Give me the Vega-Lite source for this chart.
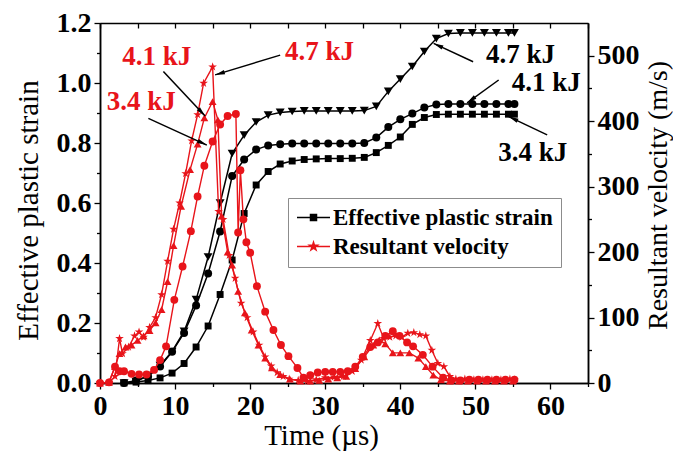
{
  "$schema": "https://vega.github.io/schema/vega-lite/v6.json",
  "width": 488,
  "height": 360,
  "autosize": {"type": "none"},
  "padding": {"left": 100, "top": 23, "right": 85, "bottom": 72},
  "background": "white",
  "config": {
    "view": {"stroke": null},
    "axis": {
      "domainColor": "#000", "tickColor": "#000", "domainWidth": 1.5, "tickWidth": 1.3,
      "labelFont": "Liberation Serif", "labelFontWeight": "bold", "labelFontSize": 28, "labelColor": "#000",
      "titleFont": "Liberation Serif", "titleFontWeight": "normal", "titleFontSize": 29, "titleColor": "#000",
      "grid": false, "labelFlush": false, "labelOverlap": false
    }
  },
  "datasets": {
    "strain": [
      {"t":3.2,"y":0,"e":"4.7 kJ"},{"t":4.8,"y":0.005,"e":"4.7 kJ"},{"t":6.4,"y":0.025,"e":"4.7 kJ"},{"t":8.0,"y":0.058,"e":"4.7 kJ"},{"t":9.6,"y":0.105,"e":"4.7 kJ"},{"t":11.2,"y":0.172,"e":"4.7 kJ"},{"t":12.8,"y":0.278,"e":"4.7 kJ"},{"t":14.4,"y":0.42,"e":"4.7 kJ"},{"t":16.0,"y":0.6,"e":"4.7 kJ"},{"t":17.6,"y":0.765,"e":"4.7 kJ"},{"t":19.2,"y":0.826,"e":"4.7 kJ"},{"t":20.8,"y":0.87,"e":"4.7 kJ"},{"t":22.4,"y":0.893,"e":"4.7 kJ"},{"t":24.0,"y":0.902,"e":"4.7 kJ"},{"t":25.6,"y":0.905,"e":"4.7 kJ"},{"t":27.2,"y":0.907,"e":"4.7 kJ"},{"t":28.8,"y":0.907,"e":"4.7 kJ"},{"t":30.4,"y":0.907,"e":"4.7 kJ"},{"t":32.0,"y":0.907,"e":"4.7 kJ"},{"t":33.6,"y":0.907,"e":"4.7 kJ"},{"t":35.2,"y":0.908,"e":"4.7 kJ"},{"t":36.8,"y":0.922,"e":"4.7 kJ"},{"t":38.4,"y":0.972,"e":"4.7 kJ"},{"t":40.0,"y":1.013,"e":"4.7 kJ"},{"t":41.6,"y":1.055,"e":"4.7 kJ"},{"t":43.2,"y":1.105,"e":"4.7 kJ"},{"t":44.8,"y":1.148,"e":"4.7 kJ"},{"t":46.4,"y":1.165,"e":"4.7 kJ"},{"t":48.0,"y":1.167,"e":"4.7 kJ"},{"t":49.6,"y":1.167,"e":"4.7 kJ"},{"t":51.2,"y":1.167,"e":"4.7 kJ"},{"t":52.8,"y":1.167,"e":"4.7 kJ"},{"t":54.4,"y":1.167,"e":"4.7 kJ"},{"t":55.2,"y":1.167,"e":"4.7 kJ"},
      {"t":3.2,"y":0,"e":"4.1 kJ"},{"t":4.8,"y":0.008,"e":"4.1 kJ"},{"t":6.4,"y":0.022,"e":"4.1 kJ"},{"t":8.0,"y":0.055,"e":"4.1 kJ"},{"t":9.6,"y":0.104,"e":"4.1 kJ"},{"t":11.2,"y":0.167,"e":"4.1 kJ"},{"t":12.8,"y":0.258,"e":"4.1 kJ"},{"t":14.4,"y":0.365,"e":"4.1 kJ"},{"t":16.0,"y":0.505,"e":"4.1 kJ"},{"t":17.6,"y":0.69,"e":"4.1 kJ"},{"t":19.2,"y":0.745,"e":"4.1 kJ"},{"t":20.8,"y":0.778,"e":"4.1 kJ"},{"t":22.4,"y":0.792,"e":"4.1 kJ"},{"t":24.0,"y":0.796,"e":"4.1 kJ"},{"t":25.6,"y":0.798,"e":"4.1 kJ"},{"t":27.2,"y":0.798,"e":"4.1 kJ"},{"t":28.8,"y":0.798,"e":"4.1 kJ"},{"t":30.4,"y":0.798,"e":"4.1 kJ"},{"t":32.0,"y":0.798,"e":"4.1 kJ"},{"t":33.6,"y":0.798,"e":"4.1 kJ"},{"t":35.2,"y":0.8,"e":"4.1 kJ"},{"t":36.8,"y":0.818,"e":"4.1 kJ"},{"t":38.4,"y":0.853,"e":"4.1 kJ"},{"t":40.0,"y":0.879,"e":"4.1 kJ"},{"t":41.6,"y":0.898,"e":"4.1 kJ"},{"t":43.2,"y":0.918,"e":"4.1 kJ"},{"t":44.8,"y":0.928,"e":"4.1 kJ"},{"t":46.4,"y":0.93,"e":"4.1 kJ"},{"t":48.0,"y":0.93,"e":"4.1 kJ"},{"t":49.6,"y":0.93,"e":"4.1 kJ"},{"t":51.2,"y":0.93,"e":"4.1 kJ"},{"t":52.8,"y":0.93,"e":"4.1 kJ"},{"t":54.4,"y":0.93,"e":"4.1 kJ"},{"t":55.2,"y":0.93,"e":"4.1 kJ"},
      {"t":3.2,"y":0,"e":"3.4 kJ"},{"t":4.8,"y":0.003,"e":"3.4 kJ"},{"t":6.4,"y":0.008,"e":"3.4 kJ"},{"t":8.0,"y":0.017,"e":"3.4 kJ"},{"t":9.6,"y":0.033,"e":"3.4 kJ"},{"t":11.2,"y":0.065,"e":"3.4 kJ"},{"t":12.8,"y":0.12,"e":"3.4 kJ"},{"t":14.4,"y":0.19,"e":"3.4 kJ"},{"t":16.0,"y":0.295,"e":"3.4 kJ"},{"t":17.6,"y":0.41,"e":"3.4 kJ"},{"t":19.2,"y":0.565,"e":"3.4 kJ"},{"t":20.8,"y":0.66,"e":"3.4 kJ"},{"t":22.4,"y":0.705,"e":"3.4 kJ"},{"t":24.0,"y":0.73,"e":"3.4 kJ"},{"t":25.6,"y":0.74,"e":"3.4 kJ"},{"t":27.2,"y":0.745,"e":"3.4 kJ"},{"t":28.8,"y":0.747,"e":"3.4 kJ"},{"t":30.4,"y":0.748,"e":"3.4 kJ"},{"t":32.0,"y":0.748,"e":"3.4 kJ"},{"t":33.6,"y":0.749,"e":"3.4 kJ"},{"t":35.2,"y":0.752,"e":"3.4 kJ"},{"t":36.8,"y":0.768,"e":"3.4 kJ"},{"t":38.4,"y":0.792,"e":"3.4 kJ"},{"t":40.0,"y":0.82,"e":"3.4 kJ"},{"t":41.6,"y":0.862,"e":"3.4 kJ"},{"t":43.2,"y":0.885,"e":"3.4 kJ"},{"t":44.8,"y":0.895,"e":"3.4 kJ"},{"t":46.4,"y":0.896,"e":"3.4 kJ"},{"t":48.0,"y":0.896,"e":"3.4 kJ"},{"t":49.6,"y":0.896,"e":"3.4 kJ"},{"t":51.2,"y":0.896,"e":"3.4 kJ"},{"t":52.8,"y":0.896,"e":"3.4 kJ"},{"t":54.4,"y":0.896,"e":"3.4 kJ"},{"t":55.2,"y":0.896,"e":"3.4 kJ"}
    ],
    "vel": [
      {"t":0,"v":0,"e":"4.7 kJ"},{"t":1.2,"v":1,"e":"4.7 kJ"},{"t":2.0,"v":10,"e":"4.7 kJ"},{"t":2.6,"v":68,"e":"4.7 kJ"},{"t":3.0,"v":45,"e":"4.7 kJ"},{"t":3.8,"v":55,"e":"4.7 kJ"},{"t":4.6,"v":72,"e":"4.7 kJ"},{"t":5.2,"v":78,"e":"4.7 kJ"},{"t":5.8,"v":70,"e":"4.7 kJ"},{"t":6.6,"v":85,"e":"4.7 kJ"},{"t":7.4,"v":100,"e":"4.7 kJ"},{"t":8.2,"v":135,"e":"4.7 kJ"},{"t":9.0,"v":186,"e":"4.7 kJ"},{"t":9.8,"v":235,"e":"4.7 kJ"},{"t":10.6,"v":275,"e":"4.7 kJ"},{"t":11.4,"v":320,"e":"4.7 kJ"},{"t":12.2,"v":370,"e":"4.7 kJ"},{"t":13.0,"v":410,"e":"4.7 kJ"},{"t":13.8,"v":458,"e":"4.7 kJ"},{"t":15.0,"v":483,"e":"4.7 kJ"},{"t":15.8,"v":262,"e":"4.7 kJ"},{"t":16.4,"v":250,"e":"4.7 kJ"},{"t":17.2,"v":195,"e":"4.7 kJ"},{"t":18.0,"v":160,"e":"4.7 kJ"},{"t":18.8,"v":122,"e":"4.7 kJ"},{"t":19.6,"v":100,"e":"4.7 kJ"},{"t":20.4,"v":78,"e":"4.7 kJ"},{"t":21.2,"v":58,"e":"4.7 kJ"},{"t":22.0,"v":40,"e":"4.7 kJ"},{"t":22.8,"v":26,"e":"4.7 kJ"},{"t":23.6,"v":16,"e":"4.7 kJ"},{"t":24.4,"v":10,"e":"4.7 kJ"},{"t":25.2,"v":6,"e":"4.7 kJ"},{"t":26.4,"v":4,"e":"4.7 kJ"},{"t":27.6,"v":3,"e":"4.7 kJ"},{"t":28.8,"v":5,"e":"4.7 kJ"},{"t":30.0,"v":8,"e":"4.7 kJ"},{"t":31.2,"v":9,"e":"4.7 kJ"},{"t":32.4,"v":10,"e":"4.7 kJ"},{"t":33.6,"v":18,"e":"4.7 kJ"},{"t":34.8,"v":35,"e":"4.7 kJ"},{"t":36.0,"v":65,"e":"4.7 kJ"},{"t":37.0,"v":91,"e":"4.7 kJ"},{"t":37.8,"v":68,"e":"4.7 kJ"},{"t":38.6,"v":70,"e":"4.7 kJ"},{"t":39.4,"v":72,"e":"4.7 kJ"},{"t":40.2,"v":70,"e":"4.7 kJ"},{"t":41.0,"v":76,"e":"4.7 kJ"},{"t":41.8,"v":77,"e":"4.7 kJ"},{"t":42.6,"v":74,"e":"4.7 kJ"},{"t":43.4,"v":72,"e":"4.7 kJ"},{"t":44.2,"v":50,"e":"4.7 kJ"},{"t":45.0,"v":30,"e":"4.7 kJ"},{"t":45.8,"v":25,"e":"4.7 kJ"},{"t":46.6,"v":10,"e":"4.7 kJ"},{"t":47.4,"v":6,"e":"4.7 kJ"},{"t":48.6,"v":6,"e":"4.7 kJ"},{"t":49.8,"v":5,"e":"4.7 kJ"},{"t":51.0,"v":5,"e":"4.7 kJ"},{"t":52.2,"v":5,"e":"4.7 kJ"},{"t":53.4,"v":5,"e":"4.7 kJ"},{"t":54.6,"v":6,"e":"4.7 kJ"},{"t":55.2,"v":5,"e":"4.7 kJ"},
      {"t":0,"v":0,"e":"4.1 kJ"},{"t":1.2,"v":1,"e":"4.1 kJ"},{"t":2.0,"v":25,"e":"4.1 kJ"},{"t":2.6,"v":45,"e":"4.1 kJ"},{"t":3.4,"v":55,"e":"4.1 kJ"},{"t":4.2,"v":58,"e":"4.1 kJ"},{"t":5.0,"v":65,"e":"4.1 kJ"},{"t":5.8,"v":72,"e":"4.1 kJ"},{"t":6.6,"v":80,"e":"4.1 kJ"},{"t":7.4,"v":92,"e":"4.1 kJ"},{"t":8.2,"v":112,"e":"4.1 kJ"},{"t":9.0,"v":155,"e":"4.1 kJ"},{"t":9.8,"v":210,"e":"4.1 kJ"},{"t":10.8,"v":270,"e":"4.1 kJ"},{"t":12.0,"v":326,"e":"4.1 kJ"},{"t":13.0,"v":365,"e":"4.1 kJ"},{"t":13.9,"v":405,"e":"4.1 kJ"},{"t":15.0,"v":430,"e":"4.1 kJ"},{"t":15.7,"v":402,"e":"4.1 kJ"},{"t":16.2,"v":255,"e":"4.1 kJ"},{"t":17.0,"v":200,"e":"4.1 kJ"},{"t":17.6,"v":180,"e":"4.1 kJ"},{"t":18.4,"v":140,"e":"4.1 kJ"},{"t":19.3,"v":107,"e":"4.1 kJ"},{"t":20.2,"v":81,"e":"4.1 kJ"},{"t":21.1,"v":58,"e":"4.1 kJ"},{"t":22.0,"v":38,"e":"4.1 kJ"},{"t":22.9,"v":23,"e":"4.1 kJ"},{"t":24.0,"v":13,"e":"4.1 kJ"},{"t":25.3,"v":6,"e":"4.1 kJ"},{"t":26.7,"v":3,"e":"4.1 kJ"},{"t":28.0,"v":3,"e":"4.1 kJ"},{"t":29.2,"v":4,"e":"4.1 kJ"},{"t":30.4,"v":6,"e":"4.1 kJ"},{"t":31.6,"v":8,"e":"4.1 kJ"},{"t":32.8,"v":10,"e":"4.1 kJ"},{"t":34.0,"v":22,"e":"4.1 kJ"},{"t":35.2,"v":40,"e":"4.1 kJ"},{"t":36.4,"v":58,"e":"4.1 kJ"},{"t":37.2,"v":66,"e":"4.1 kJ"},{"t":38.0,"v":60,"e":"4.1 kJ"},{"t":39.0,"v":46,"e":"4.1 kJ"},{"t":40.0,"v":46,"e":"4.1 kJ"},{"t":41.2,"v":46,"e":"4.1 kJ"},{"t":42.4,"v":38,"e":"4.1 kJ"},{"t":43.4,"v":25,"e":"4.1 kJ"},{"t":44.4,"v":12,"e":"4.1 kJ"},{"t":45.4,"v":5,"e":"4.1 kJ"},{"t":46.6,"v":3,"e":"4.1 kJ"},{"t":47.8,"v":3,"e":"4.1 kJ"},{"t":49.0,"v":3,"e":"4.1 kJ"},{"t":50.2,"v":3,"e":"4.1 kJ"},{"t":51.4,"v":3,"e":"4.1 kJ"},{"t":52.6,"v":3,"e":"4.1 kJ"},{"t":53.8,"v":3,"e":"4.1 kJ"},{"t":55.0,"v":3,"e":"4.1 kJ"},
      {"t":0,"v":0,"e":"3.4 kJ"},{"t":1.2,"v":1,"e":"3.4 kJ"},{"t":2.0,"v":25,"e":"3.4 kJ"},{"t":2.6,"v":18,"e":"3.4 kJ"},{"t":3.2,"v":18,"e":"3.4 kJ"},{"t":4.2,"v":14,"e":"3.4 kJ"},{"t":5.2,"v":13,"e":"3.4 kJ"},{"t":6.2,"v":13,"e":"3.4 kJ"},{"t":7.2,"v":20,"e":"3.4 kJ"},{"t":8.0,"v":35,"e":"3.4 kJ"},{"t":8.8,"v":56,"e":"3.4 kJ"},{"t":9.9,"v":127,"e":"3.4 kJ"},{"t":11.0,"v":178,"e":"3.4 kJ"},{"t":12.1,"v":232,"e":"3.4 kJ"},{"t":13.0,"v":285,"e":"3.4 kJ"},{"t":13.9,"v":332,"e":"3.4 kJ"},{"t":15.0,"v":369,"e":"3.4 kJ"},{"t":16.0,"v":395,"e":"3.4 kJ"},{"t":17.0,"v":408,"e":"3.4 kJ"},{"t":18.1,"v":411,"e":"3.4 kJ"},{"t":18.4,"v":230,"e":"3.4 kJ"},{"t":18.7,"v":325,"e":"3.4 kJ"},{"t":19.1,"v":250,"e":"3.4 kJ"},{"t":19.5,"v":215,"e":"3.4 kJ"},{"t":20.0,"v":199,"e":"3.4 kJ"},{"t":20.9,"v":148,"e":"3.4 kJ"},{"t":22.0,"v":109,"e":"3.4 kJ"},{"t":23.1,"v":81,"e":"3.4 kJ"},{"t":24.1,"v":58,"e":"3.4 kJ"},{"t":25.1,"v":41,"e":"3.4 kJ"},{"t":26.3,"v":23,"e":"3.4 kJ"},{"t":27.1,"v":8,"e":"3.4 kJ"},{"t":28.0,"v":12,"e":"3.4 kJ"},{"t":29.0,"v":16,"e":"3.4 kJ"},{"t":30.0,"v":17,"e":"3.4 kJ"},{"t":31.0,"v":17,"e":"3.4 kJ"},{"t":32.0,"v":17,"e":"3.4 kJ"},{"t":33.0,"v":18,"e":"3.4 kJ"},{"t":34.0,"v":25,"e":"3.4 kJ"},{"t":35.0,"v":40,"e":"3.4 kJ"},{"t":36.0,"v":55,"e":"3.4 kJ"},{"t":37.0,"v":62,"e":"3.4 kJ"},{"t":38.0,"v":72,"e":"3.4 kJ"},{"t":39.0,"v":79,"e":"3.4 kJ"},{"t":39.9,"v":72,"e":"3.4 kJ"},{"t":40.9,"v":62,"e":"3.4 kJ"},{"t":41.7,"v":56,"e":"3.4 kJ"},{"t":43.0,"v":43,"e":"3.4 kJ"},{"t":44.3,"v":25,"e":"3.4 kJ"},{"t":45.7,"v":8,"e":"3.4 kJ"},{"t":46.8,"v":4,"e":"3.4 kJ"},{"t":48.0,"v":4,"e":"3.4 kJ"},{"t":49.2,"v":5,"e":"3.4 kJ"},{"t":50.4,"v":5,"e":"3.4 kJ"},{"t":51.6,"v":5,"e":"3.4 kJ"},{"t":52.8,"v":5,"e":"3.4 kJ"},{"t":54.0,"v":5,"e":"3.4 kJ"},{"t":55.2,"v":5,"e":"3.4 kJ"}
    ],
    "labels": [
      {"t":7.55,"s":1.086,"text":"4.1 kJ","kind":"Resultant velocity"},
      {"t":5.5,"s":0.936,"text":"3.4 kJ","kind":"Resultant velocity"},
      {"t":29.25,"s":1.103,"text":"4.7 kJ","kind":"Resultant velocity"},
      {"t":56.0,"s":1.094,"text":"4.7 kJ","kind":"Effective plastic strain"},
      {"t":59.45,"s":1.0,"text":"4.1 kJ","kind":"Effective plastic strain"},
      {"t":57.65,"s":0.768,"text":"3.4 kJ","kind":"Effective plastic strain"}
    ],
    "arrows": [
      {"t1":8.44,"s1":1.038,"t2":14.0,"s2":0.89},
      {"t1":6.44,"s1":0.882,"t2":14.23,"s2":0.793},
      {"t1":24.0,"s1":1.093,"t2":15.33,"s2":1.027},
      {"t1":49.7,"s1":1.071,"t2":44.44,"s2":1.132},
      {"t1":53.1,"s1":1.01,"t2":48.9,"s2":0.934},
      {"t1":59.56,"s1":0.827,"t2":54.44,"s2":0.888}
    ]
  },
  "layer": [
    {
      "data": {"name": "strain"},
      "layer": [
        {
          "mark": {"type": "line", "strokeWidth": 1.5},
          "encoding": {
            "x": {"field": "t", "type": "quantitative", "scale": {"domain": [0, 65], "nice": false, "zero": false},
                  "axis": {"orient": "bottom", "values": [0, 10, 20, 30, 40, 50, 60], "tickSize": 6, "labelPadding": 3, "title": "Time (µs)", "titleX": 221, "titleY": 61, "titleBaseline": "alphabetic"}},
            "y": {"field": "y", "type": "quantitative", "scale": {"domain": [0, 1.2], "nice": false, "zero": false},
                  "axis": {"orient": "left", "values": [0, 0.2, 0.4, 0.6, 0.8, 1.0, 1.2], "format": ".1f", "tickSize": 6, "labelPadding": 3, "title": "Effective plastic strain", "titleX": -72, "titleY": 187, "titleBaseline": "middle"}},
            "detail": {"field": "e"},
            "color": {
              "datum": "Effective plastic strain",
              "scale": {"domain": ["Effective plastic strain", "Resultant velocity"], "range": ["#000000", "#e8141a"]},
              "legend": {
                "orient": "none", "legendX": 188, "legendY": 175, "direction": "vertical", "title": null,
                "padding": 8, "strokeColor": "#8c8c8c", "fillColor": "#ffffff",
                "labelFont": "Liberation Serif", "labelFontSize": 23, "labelFontWeight": "bold", "labelColor": "#000", "labelLimit": 400,
                "symbolSize": 36, "symbolOffset": 6, "labelOffset": 8, "rowPadding": 5, "symbolStrokeWidth": 1.5,
                "encode": {"symbols": {"update": {
                  "shape": {"signal": "datum.value === 'Effective plastic strain' ? 'M-5.5,0H5.5M-1,-1H1V1H-1Z' : 'M-5.5,0H5.5M0,-1.4L0.314,-0.433L1.332,-0.433L0.509,0.165L0.823,1.133L0,0.535L-0.823,1.133L-0.509,0.165L-1.332,-0.433L-0.314,-0.433Z'"},
                  "fill": {"signal": "datum.value === 'Effective plastic strain' ? '#000000' : '#e8141a'"},
                  "stroke": {"signal": "datum.value === 'Effective plastic strain' ? '#000000' : '#e8141a'"},
                  "strokeWidth": {"value": 1.5},
                  "opacity": {"value": 1},
                  "fillOpacity": {"value": 1}
                }}}
              }
            }
          }
        },
        {
          "mark": {"type": "point", "filled": true, "opacity": 1},
          "encoding": {
            "x": {"field": "t", "type": "quantitative", "scale": {"domain": [0, 65], "nice": false, "zero": false},
                  "axis": {"orient": "bottom", "values": [5, 15, 25, 35, 45, 55, 65], "labels": false, "tickSize": 3.5, "title": null}},
            "y": {"field": "y", "type": "quantitative", "scale": {"domain": [0, 1.2], "nice": false, "zero": false},
                  "axis": {"orient": "left", "values": [0.1, 0.3, 0.5, 0.7, 0.9, 1.1], "labels": false, "tickSize": 3.5, "title": null}},
            "shape": {"field": "e", "type": "nominal", "scale": {"domain": ["4.7 kJ", "4.1 kJ", "3.4 kJ"], "range": ["triangle-down", "circle", "square"]}, "legend": null},
            "size": {"field": "e", "type": "nominal", "scale": {"domain": ["4.7 kJ", "4.1 kJ", "3.4 kJ"], "range": [80, 48, 42]}, "legend": null},
            "color": {"datum": "Effective plastic strain"}
          }
        }
      ],
      "resolve": {"axis": {"x": "independent", "y": "independent"}}
    },
    {
      "data": {"name": "vel"},
      "layer": [
        {
          "mark": {"type": "line", "strokeWidth": 1.4},
          "encoding": {
            "x": {"field": "t", "type": "quantitative", "scale": {"domain": [0, 65], "nice": false, "zero": false},
                  "axis": {"orient": "top", "values": [0, 5, 10, 15, 20, 25, 30, 35, 40, 45, 50, 55, 60, 65], "labels": false, "tickSize": -5, "title": null}},
            "y": {"field": "v", "type": "quantitative", "scale": {"domain": [0, 550], "nice": false, "zero": false},
                  "axis": {"orient": "right", "values": [0, 100, 200, 300, 400, 500], "tickSize": 6, "labelPadding": 3, "title": "Resultant velocity (m/s)", "titleFontSize": 28, "titleAngle": 270, "titleX": 70, "titleY": 172, "titleBaseline": "middle"}},
            "detail": {"field": "e"},
            "color": {"datum": "Resultant velocity"}
          }
        },
        {
          "mark": {"type": "point", "filled": true, "opacity": 1},
          "encoding": {
            "x": {"field": "t", "type": "quantitative", "scale": {"domain": [0, 65], "nice": false, "zero": false}, "axis": null},
            "y": {"field": "v", "type": "quantitative", "scale": {"domain": [0, 550], "nice": false, "zero": false},
                  "axis": {"orient": "right", "values": [50, 150, 250, 350, 450], "labels": false, "tickSize": 3.5, "title": null}},
            "shape": {"field": "e", "type": "nominal", "scale": {"domain": ["4.7 kJ", "4.1 kJ", "3.4 kJ"], "range": ["M0,-1.15L0.258,-0.355L1.094,-0.355L0.418,0.136L0.676,0.93L0,0.439L-0.676,0.93L-0.418,0.136L-1.094,-0.355L-0.258,-0.355Z", "triangle-up", "circle"]}, "legend": null},
            "size": {"field": "e", "type": "nominal", "scale": {"domain": ["4.7 kJ", "4.1 kJ", "3.4 kJ"], "range": [62, 62, 48]}, "legend": null},
            "color": {"datum": "Resultant velocity"}
          }
        }
      ],
      "resolve": {"axis": {"x": "independent", "y": "independent"}}
    },
    {
      "layer": [
        {
          "data": {"name": "arrows"},
          "mark": {"type": "rule", "color": "#000", "strokeWidth": 1.5},
          "encoding": {
            "x": {"field": "t1", "type": "quantitative", "scale": {"domain": [0, 65], "nice": false, "zero": false}, "axis": null},
            "y": {"field": "s1", "type": "quantitative", "scale": {"domain": [0, 1.2], "nice": false, "zero": false}, "axis": null},
            "x2": {"field": "t2"},
            "y2": {"field": "s2"}
          }
        },
        {
          "data": {"name": "arrows"},
          "transform": [{"calculate": "atan2((datum.t2 - datum.t1) * 7.508, (datum.s2 - datum.s1) * 300) * 180 / PI", "as": "ang"}],
          "mark": {"type": "point", "shape": "M0,0L0.5,2.2L-0.5,2.2Z", "filled": true, "color": "#000", "size": 80, "opacity": 1},
          "encoding": {
            "x": {"field": "t2", "type": "quantitative", "scale": {"domain": [0, 65], "nice": false, "zero": false}, "axis": null},
            "y": {"field": "s2", "type": "quantitative", "scale": {"domain": [0, 1.2], "nice": false, "zero": false}, "axis": null},
            "angle": {"field": "ang", "type": "quantitative", "scale": null}
          }
        },
        {
          "data": {"name": "labels"},
          "mark": {"type": "text", "font": "Liberation Serif", "fontWeight": "bold", "fontSize": 27, "baseline": "middle", "align": "center"},
          "encoding": {
            "x": {"field": "t", "type": "quantitative", "scale": {"domain": [0, 65], "nice": false, "zero": false}, "axis": null},
            "y": {"field": "s", "type": "quantitative", "scale": {"domain": [0, 1.2], "nice": false, "zero": false}, "axis": null},
            "text": {"field": "text"},
            "color": {"field": "kind", "type": "nominal", "legend": null}
          }
        }
      ]
    }
  ],
  "resolve": {"scale": {"y": "independent", "shape": "independent", "size": "independent"}, "axis": {"x": "independent", "y": "independent"}}
}
